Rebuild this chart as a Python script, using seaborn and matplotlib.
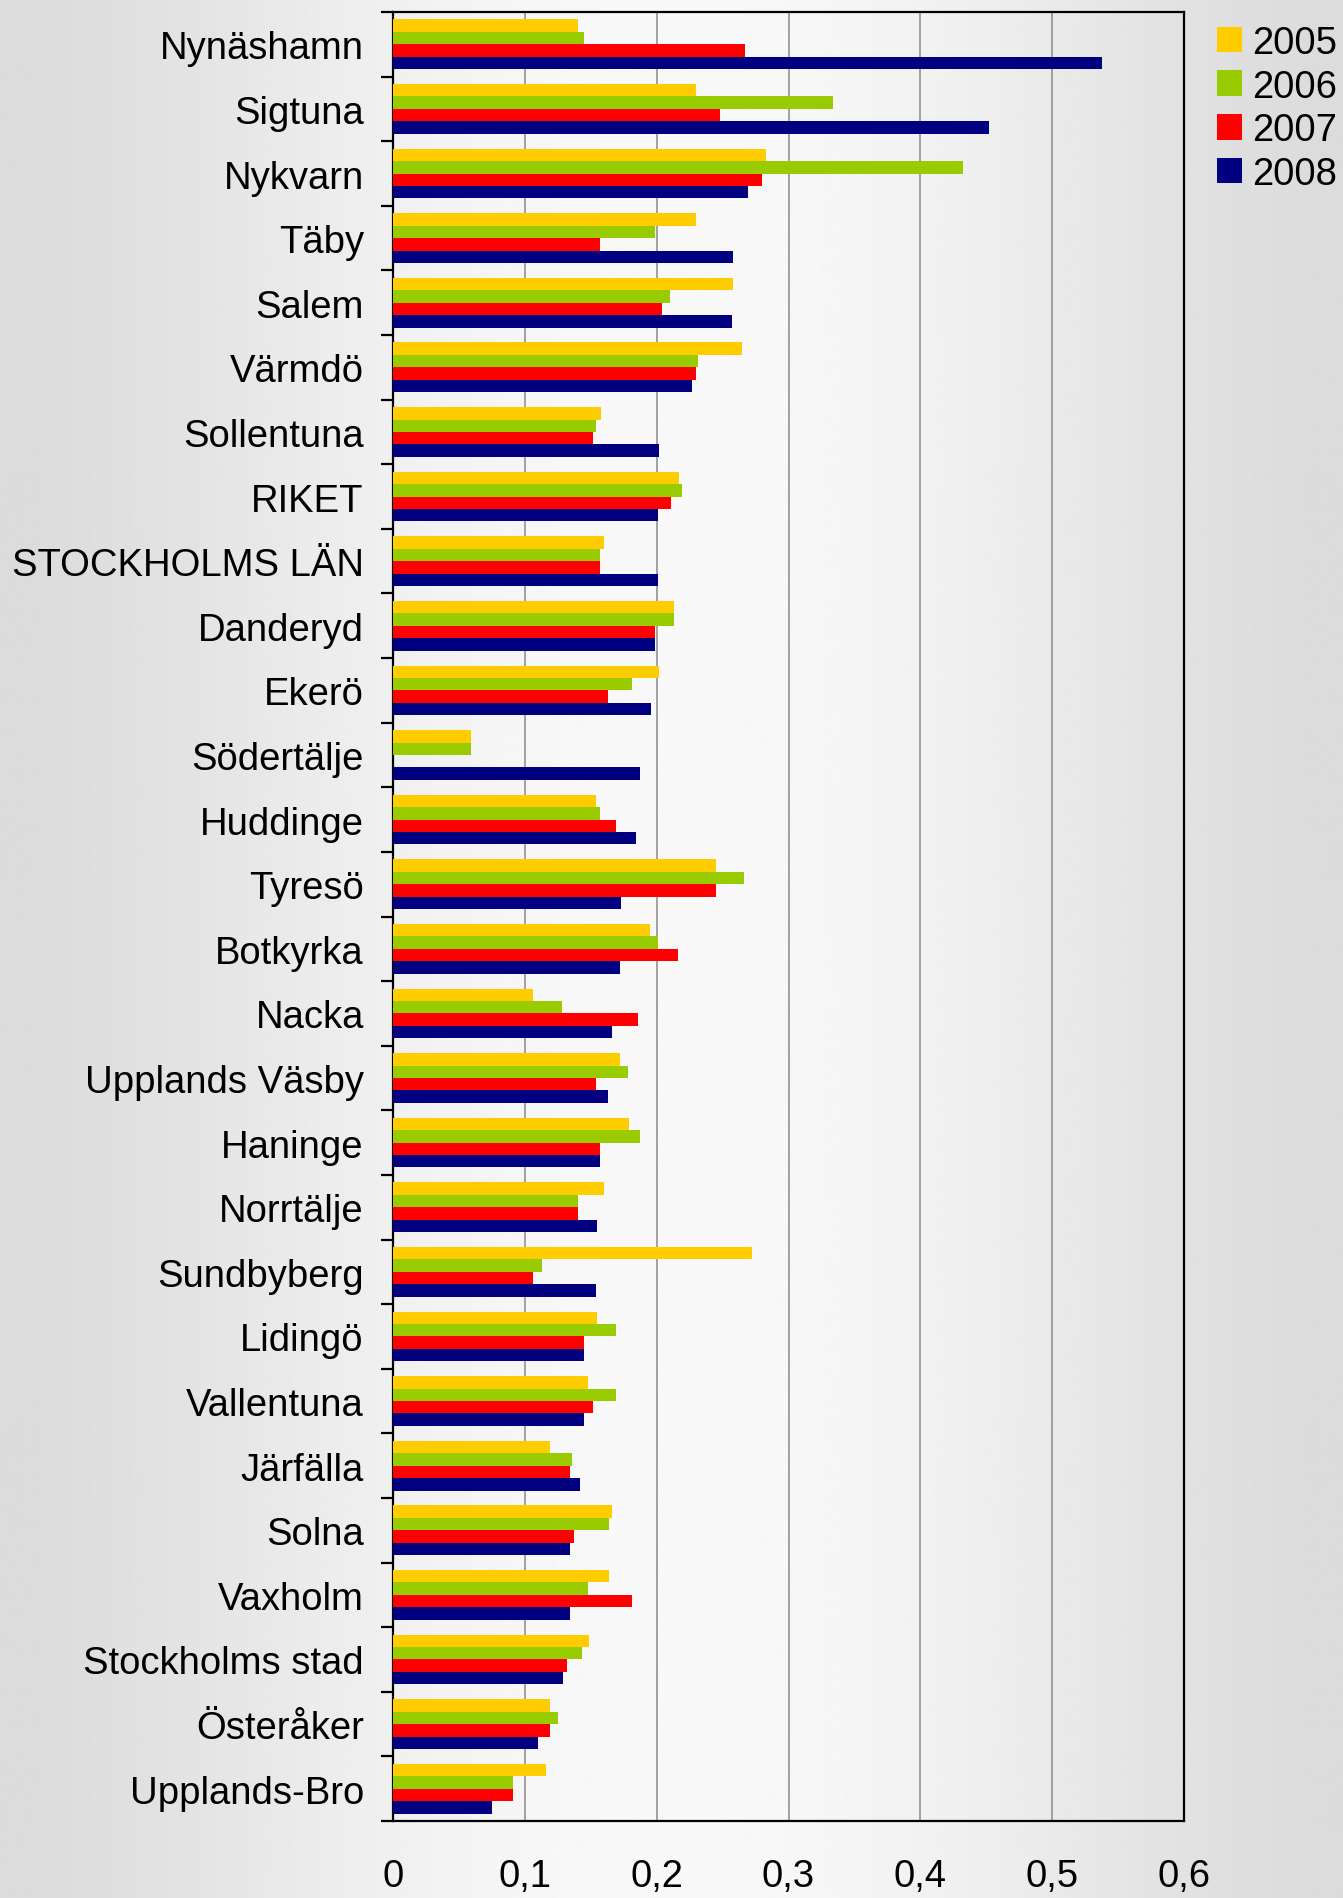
import numpy as np
import pandas as pd
import matplotlib
matplotlib.use("Agg")
import matplotlib.pyplot as plt
import seaborn as sns

categories = ["Nynäshamn", "Sigtuna", "Nykvarn", "Täby", "Salem", "Värmdö", "Sollentuna",
              "RIKET", "STOCKHOLMS LÄN", "Danderyd", "Ekerö", "Södertälje", "Huddinge",
              "Tyresö", "Botkyrka", "Nacka", "Upplands Väsby", "Haninge", "Norrtälje",
              "Sundbyberg", "Lidingö", "Vallentuna", "Järfälla", "Solna", "Vaxholm",
              "Stockholms stad", "Österåker", "Upplands-Bro"]
years = ["2005", "2006", "2007", "2008"]
v2005 = [0.140, 0.230, 0.283, 0.230, 0.258, 0.265, 0.158, 0.217, 0.160, 0.213, 0.202, 0.059,
         0.154, 0.245, 0.195, 0.106, 0.172, 0.179, 0.160, 0.272, 0.155, 0.148, 0.119, 0.166,
         0.164, 0.149, 0.119, 0.116]
v2006 = [0.145, 0.334, 0.432, 0.199, 0.210, 0.231, 0.154, 0.219, 0.157, 0.213, 0.181, 0.059,
         0.157, 0.266, 0.201, 0.128, 0.178, 0.187, 0.140, 0.113, 0.169, 0.169, 0.136, 0.164,
         0.148, 0.143, 0.125, 0.091]
v2007 = [0.267, 0.248, 0.280, 0.157, 0.204, 0.230, 0.152, 0.211, 0.157, 0.199, 0.163, np.nan,
         0.169, 0.245, 0.216, 0.186, 0.154, 0.157, 0.140, 0.106, 0.145, 0.152, 0.134, 0.137,
         0.181, 0.132, 0.119, 0.091]
v2008 = [0.538, 0.452, 0.269, 0.258, 0.257, 0.227, 0.202, 0.201, 0.201, 0.199, 0.196, 0.187,
         0.184, 0.173, 0.172, 0.166, 0.163, 0.157, 0.155, 0.154, 0.145, 0.145, 0.142, 0.134,
         0.134, 0.129, 0.110, 0.075]
colors = ["#FFCC00", "#99CC00", "#FF0000", "#000080"]
xtick_vals = [0, 0.1, 0.2, 0.3, 0.4, 0.5, 0.6]
xtick_labels = ["0", "0,1", "0,2", "0,3", "0,4", "0,5", "0,6"]

df = pd.DataFrame({
    "kommun": categories * 4,
    "year": [y for y in years for _ in categories],
    "value": v2005 + v2006 + v2007 + v2008,
})

sns.set_style("white")
plt.rcParams["font.family"] = ["Liberation Sans", "DejaVu Sans"]
plt.rcParams["text.color"] = "black"
plt.rcParams["xtick.color"] = "black"
plt.rcParams["ytick.color"] = "black"
plt.rcParams["axes.labelcolor"] = "black"

FS = 27.5

fig = plt.figure(figsize=(13.43, 18.99), dpi=100)

# background gradient
bg = fig.add_axes([0, 0, 1, 1], zorder=-10)
xs = np.linspace(0, 1, 600)
vals = 0.86 + 0.115 * np.sin(np.pi * xs) ** 1.5
grad = np.tile(vals, (2, 1))
bg.imshow(grad, cmap="gray", vmin=0, vmax=1, aspect="auto", extent=[0, 1, 0, 1])
bg.set_axis_off()

top_px, bot_px, left_px, right_px = 13, 1822, 393, 1184
ax = fig.add_axes([left_px / 1343, 1 - bot_px / 1899, (right_px - left_px) / 1343,
                   (bot_px - top_px) / 1899])
ax.patch.set_alpha(0)

sns.barplot(data=df, y="kommun", x="value", hue="year", order=categories, hue_order=years,
            palette=colors, orient="h", width=0.77, errorbar=None, ax=ax, saturation=1,
            linewidth=0, zorder=3)

ax.set_xlim(0, 0.6)
ax.set_ylim(len(categories) - 0.5, -0.5)
ax.set_xlabel("")
ax.set_ylabel("")

ax.set_xticks(xtick_vals)
ax.set_xticklabels(xtick_labels, fontsize=FS)
ax.tick_params(axis="x", direction="out", length=9, width=1.6, pad=18, colors="black")

ax.set_yticks(range(len(categories)))
ax.set_yticklabels(categories, fontsize=FS)
ax.tick_params(axis="y", which="major", length=0, pad=21)
ax.set_yticks(np.arange(-0.5, len(categories), 1.0), minor=True)
ax.tick_params(axis="y", which="minor", direction="out", length=8.7, width=1.6, left=True)

ax.grid(axis="x", color="#9a9a9a", linewidth=1.3, zorder=0)
ax.grid(axis="y", visible=False)
ax.set_axisbelow(True)
for s in ax.spines.values():
    s.set_visible(True)
    s.set_color("black")
    s.set_linewidth(1.6)

leg = ax.legend(loc="upper left", bbox_to_anchor=(1217 / 1343, 1 - 26 / 1899),
                bbox_transform=fig.transFigure, frameon=False, fontsize=FS,
                handlelength=0.66, handleheight=0.66, labelspacing=0.2,
                handletextpad=0.27, borderpad=0, borderaxespad=0, title=None)

fig.savefig("out.png", dpi=100)
